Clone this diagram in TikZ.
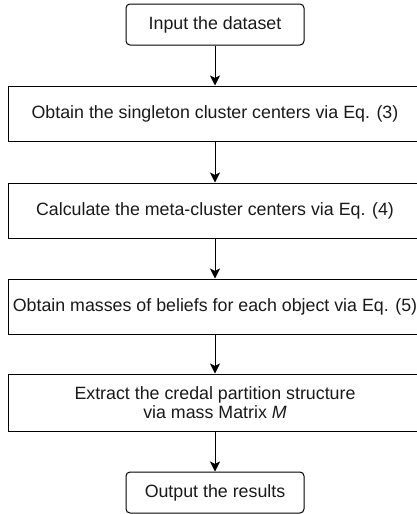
\documentclass[tikz,border=0pt]{standalone}
\usepackage{fontspec}
\setmainfont{Liberation Sans}
\usetikzlibrary{arrows.meta}

\begin{document}
\begin{tikzpicture}[
	x=1pt, y=-1pt,
	stepbox/.style={draw, line width=1pt, align=center, minimum width=414pt, minimum height=55pt, inner sep=0pt, text=black!90},
	endbox/.style={draw, line width=1pt, rounded corners=4pt, align=center, minimum width=178pt, minimum height=41pt, inner sep=0pt, text=black!90},
	edge/.style={-{Stealth[length=10pt, width=10pt, inset=2.5pt]}, line width=1pt},
	font=\fontsize{17.8}{19.5}\selectfont
]
\useasboundingbox (0,0) rectangle (416,514);

% Start and end
\node[endbox] (input) at (215, 24.5) {Input the dataset};
\node[endbox] (output) at (215, 492.5) {Output the results};

% Steps
\node[stepbox] (singleton) at (215, 113.5) {Obtain the singleton cluster centers via Eq. (3)};
\node[stepbox] (meta) at (215, 210.5) {Calculate the meta-cluster centers via Eq. (4)};
\node[stepbox] (masses) at (215, 306.5) {Obtain masses of beliefs for each object via Eq. (5)};
\node[stepbox, minimum height=57pt] (credal) at (215, 402.5) {Extract the credal partition structure\\via mass Matrix \textit{M}};

% Edges
\draw[edge] (input) -- (singleton);
\draw[edge] (singleton) -- (meta);
\draw[edge] (meta) -- (masses);
\draw[edge] (masses) -- (credal);
\draw[edge] (credal) -- (output);

\end{tikzpicture}
\end{document}
